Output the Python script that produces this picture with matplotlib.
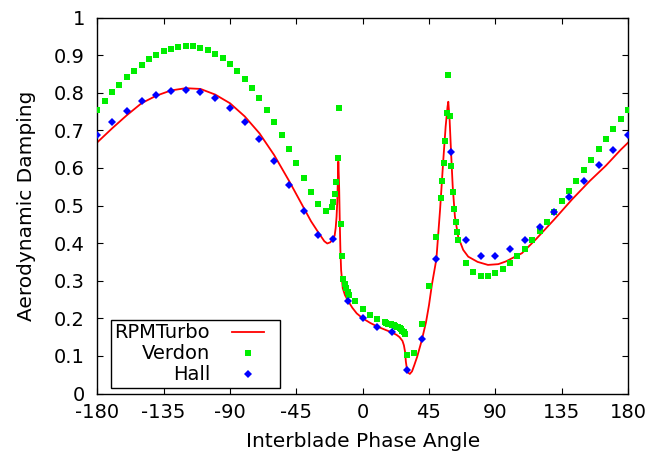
import matplotlib
matplotlib.use("Agg")
import matplotlib.pyplot as plt
from matplotlib.lines import Line2D
from matplotlib.legend_handler import HandlerLine2D

plt.rcParams['font.family'] = ['DejaVu Sans']

# RPMTurbo (solid line)
rpm_x = [-180, -170, -160, -150, -140, -130, -120, -110, -100, -90, -80, -70, -60, -50, -40,
         -35, -30, -26, -24, -22, -20, -19, -18.3, -17.7, -17.2, -16.8, -16.5, -16.1, -15.9,
         -15.5, -15.1, -14.6, -13.5, -12, -10, -7, -4, 0, 5, 10, 15, 20, 23, 25, 27, 28, 28.8,
         29.3, 30, 31, 32, 33.5, 35, 37, 40, 43, 45, 47, 50, 52.5, 54.7, 56.3, 57.6, 58.1, 59,
         59.9, 61.1, 62.6, 64.8, 68.2, 71.6, 78, 85, 92, 97, 108, 117, 130, 142, 154, 165, 175, 180]
rpm_y = [0.668, 0.705, 0.740, 0.772, 0.792, 0.806, 0.812, 0.810, 0.795, 0.772, 0.737, 0.692, 0.634, 0.566, 0.494,
         0.458, 0.428, 0.405, 0.399, 0.402, 0.412, 0.420, 0.440, 0.470, 0.510, 0.570, 0.617, 0.570, 0.541,
         0.453, 0.382, 0.328, 0.280, 0.262, 0.247, 0.228, 0.213, 0.200, 0.188, 0.178, 0.170, 0.162, 0.156, 0.150, 0.140, 0.128, 0.110,
         0.085, 0.066, 0.055, 0.052, 0.059, 0.075, 0.098, 0.140, 0.190, 0.235, 0.290, 0.357, 0.488, 0.621, 0.710, 0.763, 0.776, 0.727,
         0.648, 0.550, 0.470, 0.417, 0.382, 0.364, 0.350, 0.342, 0.344, 0.351, 0.373, 0.408, 0.463, 0.516, 0.565, 0.606, 0.648, 0.667]

# Verdon (green squares)
verdon_x = [-180, -175, -170, -165, -160, -155, -150, -145, -140, -135, -130, -125, -120, -115, -110, -105,
            -100, -95, -90, -85, -80, -75, -70, -65, -60, -55, -50, -45, -40, -35, -30, -25,
            -21, -20, -19, -18, -17, -16, -15, -14, -13, -12, -11, -10, -9, -5, 0, 5, 10, 15,
            16, 17, 18, 19, 20, 21, 22, 23, 24, 25, 26, 27, 28, 29, 30, 35, 40, 45, 50,
            53, 54, 55, 56, 57, 58, 59, 60, 61, 62, 63, 64, 65, 70, 75, 80, 85, 90, 95, 100,
            105, 110, 115, 120, 125, 130, 135, 140, 145, 150, 155, 160, 165, 170, 175, 180]
verdon_y = [0.754, 0.778, 0.801, 0.821, 0.841, 0.859, 0.875, 0.889, 0.901, 0.910, 0.917, 0.922, 0.924, 0.923, 0.920, 0.913,
            0.903, 0.891, 0.876, 0.858, 0.836, 0.813, 0.785, 0.755, 0.723, 0.688, 0.651, 0.612, 0.574, 0.537, 0.505, 0.486,
            0.497, 0.509, 0.530, 0.563, 0.626, 0.760, 0.452, 0.367, 0.305, 0.292, 0.280, 0.271, 0.262, 0.245, 0.225, 0.210, 0.198, 0.189,
            0.187, 0.186, 0.185, 0.184, 0.183, 0.182, 0.180, 0.178, 0.176, 0.174, 0.171, 0.167, 0.163, 0.157, 0.102, 0.107, 0.185, 0.285, 0.415,
            0.521, 0.565, 0.614, 0.672, 0.745, 0.848, 0.739, 0.605, 0.536, 0.490, 0.456, 0.430, 0.409, 0.348, 0.322, 0.313, 0.313, 0.320, 0.332, 0.348,
            0.366, 0.385, 0.408, 0.431, 0.457, 0.484, 0.511, 0.539, 0.566, 0.594, 0.622, 0.649, 0.677, 0.703, 0.729, 0.754]

# Hall (blue diamonds)
hall_x = [-180, -170, -160, -150, -140, -130, -120, -110, -100, -90, -80, -70, -60, -50, -40, -30, -20, -10,
          0, 10, 20, 30, 40, 50, 60, 70, 80, 90, 100, 110, 120, 130, 140, 150, 160, 170, 180]
hall_y = [0.688, 0.722, 0.752, 0.777, 0.795, 0.805, 0.808, 0.802, 0.786, 0.759, 0.722, 0.676, 0.619, 0.555, 0.485, 0.421, 0.410, 0.247,
          0.200, 0.177, 0.164, 0.062, 0.146, 0.357, 0.643, 0.409, 0.367, 0.366, 0.383, 0.409, 0.443, 0.482, 0.523, 0.565, 0.607, 0.648, 0.688]

xticks = [-180, -135, -90, -45, 0, 45, 90, 135, 180]
yticks = [0, 0.1, 0.2, 0.3, 0.4, 0.5, 0.6, 0.7, 0.8, 0.9, 1]
ytick_labels = ['0', '0.1', '0.2', '0.3', '0.4', '0.5', '0.6', '0.7', '0.8', '0.9', '1']


class LeftLine(HandlerLine2D):
    """Legend sample drawn on the left part of the handle box (leaves right padding)."""
    def get_xdata(self, legend, xdescent, ydescent, width, height, fontsize):
        w = width * 0.72
        return [-xdescent, -xdescent + w], [-xdescent + 0.5 * w]


fig = plt.figure(figsize=(6.54, 4.59), dpi=100)
ax = fig.add_axes([97.3 / 654, (459 - 393.5) / 459, 530.7 / 654, 376 / 459])

ax.plot(rpm_x, rpm_y, color='#ff0000', lw=1.3, label='RPMTurbo', zorder=2)
ax.plot(verdon_x, verdon_y, ls='none', marker='s', ms=3.9, mew=0, color='#00ee00', label='Verdon', zorder=3)
ax.plot(hall_x, hall_y, ls='none', marker='D', ms=3.8, mew=0, color='#0000ff', label='Hall', zorder=4)

ax.set_xlim(-180, 180)
ax.set_ylim(0, 1)
ax.set_xticks(xticks)
ax.set_xticklabels([str(t) for t in xticks])
ax.set_yticks(yticks)
ax.set_yticklabels(ytick_labels)
ax.tick_params(direction='in', length=4.5, width=0.8, top=True, right=True, labelsize=14, color='black')
ax.tick_params(axis='x', pad=7)
ax.tick_params(axis='y', pad=9)
for s in ax.spines.values():
    s.set_linewidth(1.0)
    s.set_color('black')

ax.set_xlabel('Interblade Phase Angle', fontsize=14.5, labelpad=7)
ax.set_ylabel('Aerodynamic Damping', fontsize=14.5, labelpad=13)

leg = ax.legend(loc='lower left', bbox_to_anchor=(0.025, 0.014), borderaxespad=0, markerfirst=False,
                fontsize=14, frameon=True, fancybox=False, framealpha=1, edgecolor='black',
                handlelength=2.27, handletextpad=1.13, labelspacing=0.1, borderpad=0.2, numpoints=1,
                handler_map={Line2D: LeftLine()})
leg.get_frame().set_linewidth(1.0)

fig.savefig('out.png', dpi=100)
